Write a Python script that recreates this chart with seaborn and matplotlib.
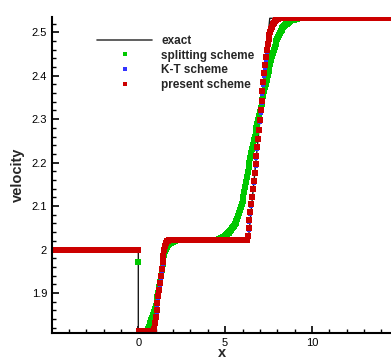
import numpy as np
import pandas as pd
import matplotlib
matplotlib.use("Agg")
import matplotlib.pyplot as plt
from matplotlib.lines import Line2D
from matplotlib.ticker import MultipleLocator, FormatStrFormatter
import seaborn as sns

# ---------------- data ----------------
grid_start, grid_end, grid_step = -5.0, 14.55, 0.05

exact_x = [-5.0, 0.0, 0.0, 0.95, 1.57, 6.33, 7.57, 14.6]
exact_y = [2.0, 2.0, 1.812, 1.812, 2.021, 2.021, 2.532, 2.532]

# plateaus: (x_from, x_to, value)
red_levels = [(-5.0, 0.0, 2.0), (0.05, 0.85, 1.813), (1.80, 6.20, 2.021), (8.15, 14.55, 2.532)]
red_ramps = [
    (0.90, [1.818, 1.830, 1.845, 1.860, 1.876, 1.892, 1.908, 1.924, 1.940, 1.956,
            1.971, 1.986, 1.999, 2.009, 2.016, 2.019, 2.020, 2.021]),
    (6.25, [2.023, 2.032, 2.050, 2.069, 2.086, 2.104, 2.122, 2.140, 2.158, 2.177,
            2.196, 2.215, 2.235, 2.255, 2.276, 2.298, 2.320, 2.342, 2.364, 2.386,
            2.406, 2.425, 2.444, 2.460, 2.473, 2.484, 2.493, 2.501, 2.508, 2.513,
            2.518, 2.522, 2.525, 2.527, 2.529, 2.530, 2.531, 2.532]),
]

blue_levels = [(-5.0, 0.0, 2.0), (0.05, 0.85, 1.813), (1.85, 6.20, 2.021), (8.25, 14.55, 2.532)]
blue_ramps = [
    (0.90, [1.816, 1.826, 1.840, 1.855, 1.871, 1.887, 1.903, 1.919, 1.935, 1.951,
            1.966, 1.980, 1.993, 2.004, 2.012, 2.017, 2.019, 2.020, 2.021]),
    (6.25, [2.022, 2.030, 2.046, 2.064, 2.082, 2.100, 2.118, 2.136, 2.154, 2.173,
            2.192, 2.211, 2.231, 2.251, 2.272, 2.293, 2.315, 2.337, 2.358, 2.379,
            2.399, 2.418, 2.436, 2.452, 2.466, 2.478, 2.488, 2.496, 2.503, 2.509,
            2.514, 2.518, 2.521, 2.524, 2.526, 2.528, 2.529, 2.530, 2.531, 2.532]),
]

green_levels = [(-5.0, -0.05, 2.0), (0.0, 0.0, 1.972), (0.05, 0.35, 1.810),
                (2.20, 4.45, 2.021), (9.30, 14.55, 2.532)]
green_ramps = [
    (0.40, [1.810, 1.811, 1.813, 1.817, 1.822, 1.827, 1.832, 1.837, 1.843, 1.849,
            1.856, 1.863, 1.871, 1.880, 1.890, 1.901, 1.913, 1.926, 1.940, 1.953,
            1.966, 1.978, 1.988, 1.996, 2.002, 2.007, 2.010, 2.012, 2.014, 2.015,
            2.016, 2.017, 2.018, 2.019, 2.020, 2.021]),
    (4.50, [2.022, 2.022, 2.023, 2.024, 2.025, 2.026, 2.027, 2.028, 2.029, 2.030,
            2.031, 2.033, 2.035, 2.037, 2.039, 2.041, 2.043, 2.046, 2.049, 2.052,
            2.055, 2.058, 2.062, 2.066, 2.071, 2.077, 2.083, 2.090, 2.097, 2.104,
            2.111, 2.121, 2.132, 2.144, 2.155, 2.167, 2.178, 2.189, 2.200, 2.211,
            2.221, 2.231, 2.241, 2.251, 2.260, 2.270, 2.279, 2.289, 2.298, 2.307,
            2.316, 2.326, 2.335, 2.345, 2.354, 2.364, 2.373, 2.382, 2.391, 2.401,
            2.410, 2.419, 2.428, 2.437, 2.445, 2.453, 2.460, 2.467, 2.473, 2.479,
            2.484, 2.489, 2.494, 2.498, 2.502, 2.506, 2.509, 2.512, 2.514, 2.516,
            2.518, 2.520, 2.522, 2.524, 2.525, 2.526, 2.527, 2.528, 2.529, 2.529,
            2.530, 2.530, 2.531, 2.531, 2.532, 2.532]),
]

series_names = ["splitting scheme", "K-T scheme", "present scheme"]
x_ticks = [0, 5, 10]
y_ticks = [1.9, 2.0, 2.1, 2.2, 2.3, 2.4, 2.5]

# ---------------- assemble on the mesh ----------------
x = np.round(np.arange(grid_start, grid_end + 1e-9, grid_step), 2)


def assemble(levels, ramps):
    y = np.full(len(x), np.nan)
    for a, b, v in levels:
        y[(x >= a - 1e-9) & (x <= b + 1e-9)] = v
    for start, vals in ramps:
        i0 = int(np.argmin(np.abs(x - start)))
        y[i0:i0 + len(vals)] = vals
    return y


frames = []
for name, lv, rp in zip(series_names,
                        [green_levels, blue_levels, red_levels],
                        [green_ramps, blue_ramps, red_ramps]):
    frames.append(pd.DataFrame({"x": x, "velocity": assemble(lv, rp), "scheme": name}))
df = pd.concat(frames, ignore_index=True).dropna()
df_exact = pd.DataFrame({"x": exact_x, "velocity": exact_y})

colors = {"splitting scheme": "#00c800", "K-T scheme": "#3333ff", "present scheme": "#cc0000"}

# ---------------- plot ----------------
sns.set_theme(style="ticks")
plt.rcParams["font.family"] = ["Liberation Sans", "DejaVu Sans"]

fig = plt.figure(figsize=(3.91, 3.62), dpi=100)
ax = fig.add_axes([52 / 391, 29 / 362, 1 - 52 / 391, (333 - 17) / 362])

sns.lineplot(data=df_exact, x="x", y="velocity", color="#1a1a1a", linewidth=1.0,
             sort=False, estimator=None, ax=ax, zorder=1)
for name, ms in zip(series_names, [14, 12, 13]):
    sub = df[df["scheme"] == name]
    sns.scatterplot(data=sub, x="x", y="velocity", color=colors[name], marker="s",
                    s=ms, linewidth=0, ax=ax, zorder=2, legend=False, clip_on=True)

ax.set_xlim(-4.97, 14.55)
ax.set_ylim(1.808, 2.535)
ax.set_xticks(x_ticks)
ax.set_yticks(y_ticks)
ax.xaxis.set_minor_locator(MultipleLocator(1))
ax.yaxis.set_minor_locator(MultipleLocator(0.02))
ax.yaxis.set_major_formatter(FormatStrFormatter("%g"))
ax.tick_params(which="major", direction="in", length=5, width=1.2, labelsize=8,
               colors="black", pad=3.5)
ax.tick_params(which="minor", direction="in", length=3, width=1.0, colors="black")
ax.tick_params(axis="x", which="both", top=False)
ax.tick_params(axis="y", which="both", right=False)
for side in ["top", "right"]:
    ax.spines[side].set_visible(False)
for side in ["left", "bottom"]:
    ax.spines[side].set_linewidth(1.5)
    ax.spines[side].set_color("black")

ax.set_xlabel("x", fontsize=10.5, fontweight="bold", labelpad=-1)
ax.set_ylabel("velocity", fontsize=10.5, fontweight="bold", labelpad=5)

handles = [Line2D([0], [0], color="#444444", linewidth=1.2)]
for name in series_names:
    handles.append(Line2D([0], [0], linestyle="none", marker="s", markersize=2.6,
                          markeredgewidth=0, color=colors[name]))
leg = ax.legend(handles, ["exact"] + series_names, loc="upper left",
                bbox_to_anchor=(97 / 391, 1 - 35 / 362), bbox_transform=fig.transFigure,
                frameon=False, handlelength=4.7, handletextpad=0.75, labelspacing=0.22,
                borderpad=0, borderaxespad=0, prop={"weight": "bold", "size": 8.5})

fig.savefig("out.png", dpi=100)
